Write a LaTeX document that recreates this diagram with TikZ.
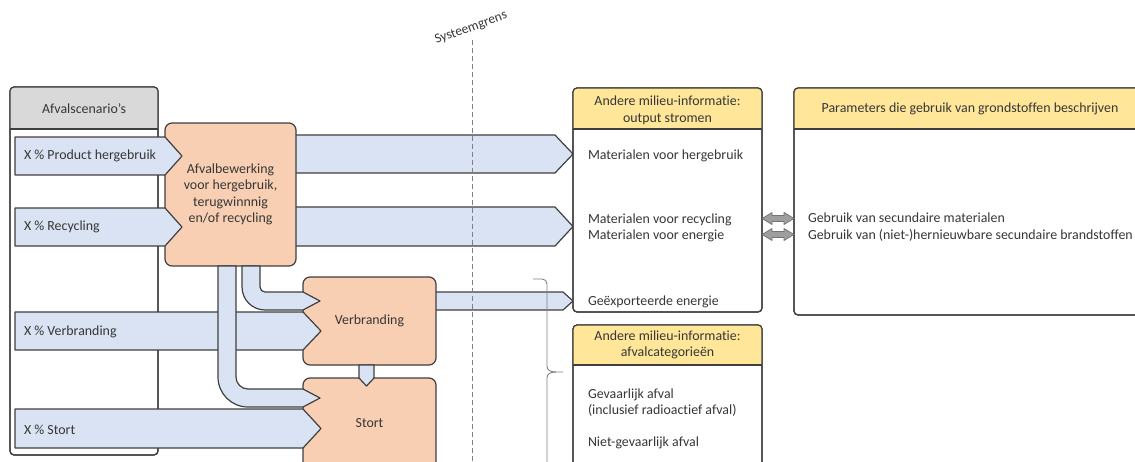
\documentclass[tikz,border=0pt]{standalone}
\usepackage{fontspec}
\setmainfont{Carlito}[Ligatures=NoCommon]
\usetikzlibrary{calc}

\definecolor{flowblue}{HTML}{DAE3F3}
\definecolor{procorange}{HTML}{F8CFB3}
\definecolor{hdryellow}{HTML}{FFE699}
\definecolor{hdrgray}{HTML}{D9D9D9}
\definecolor{edgecol}{HTML}{3F3F3F}
\definecolor{txtcol}{HTML}{363636}

% straight block arrow: [opts]{x start}{x shoulder}{x tip}{y centre}{half height}
\newcommand\blkarrow[6][]{%
  \draw[flow,#1] (#2,{#5-#6}) -- (#3,{#5-#6}) -- (#4,#5) -- (#3,{#5+#6}) -- (#2,{#5+#6}) -- cycle;}
% small grey double-headed arrow between two panels, centred at height #1
\newcommand\dblarrow[1]{%
  \draw[dbl] (762,#1) -- (772,{#1-6}) -- (772,{#1-3}) -- (784,{#1-3}) -- (784,{#1-6})
    -- (794,#1) -- (784,{#1+6}) -- (784,{#1+3}) -- (772,{#1+3}) -- (772,{#1+6}) -- cycle;}

\begin{document}
\begin{tikzpicture}[x=1pt,y=-1pt,
  every node/.style={font=\fontsize{13.9}{16.5}\selectfont, text=txtcol, inner sep=0pt, outer sep=0pt},
  outl/.style={draw=edgecol, line width=1.2pt, line join=round},
  flow/.style={outl, fill=flowblue},
  proc/.style={outl, fill=procorange, rounded corners=7pt},
  panel/.style={outl, fill=white, rounded corners=4pt},
  sysline/.style={draw=black!50, line width=0.9pt, dash pattern=on 5pt off 3pt},
  bracel/.style={draw=black!50, line width=0.9pt},
  dbl/.style={draw=black!55, fill=black!38, line width=0.7pt, line join=round},
]
\useasboundingbox (0,0) rectangle (1135,461);
\clip (0,0) rectangle (1135,461);

% ---------- waste scenarios panel ----------
\node[panel, anchor=north west, minimum width=148pt, minimum height=368pt] (scen) at (10,87) {};
\begin{scope}
  \clip[rounded corners=4pt] (scen.north west) rectangle (scen.south east);
  \fill[hdrgray] (scen.north west) rectangle ($(scen.north east)+(0,42)$);
\end{scope}
\draw[outl] ($(scen.north west)+(0,42)$) -- ($(scen.north east)+(0,42)$);
\draw[outl, rounded corners=4pt] (scen.north west) rectangle (scen.south east);
\node (scenhdr) at (84,109) {Afvalscenario’s};

% ---------- flows leaving the process boxes (start hidden under the boxes) ----------
\blkarrow{280}{555}{573}{154}{19}
\blkarrow{280}{555}{573}{226.5}{19.5}
\blkarrow{420}{563}{573}{301}{9}

% ---------- process boxes ----------
\node[proc, anchor=north west, minimum width=131pt, minimum height=143pt, align=center] (treat) at (165,123)
  {Afvalbewerking\\voor hergebruik,\\terugwinnnig\\en/of recycling};
\node[proc, anchor=north west, minimum width=133pt, minimum height=88pt] (burn) at (303,277) {Verbranding};
\node[proc, anchor=north west, minimum width=133pt, minimum height=120pt] (land) at (303,378) {};
\node (landlbl) at (369.5,423) {Stort};

% ---------- scenario inputs ----------
\blkarrow{15}{165}{182}{156}{19}
\blkarrow{15}{165}{182}{227}{19}
\blkarrow{15}{303}{321}{331}{19}
\blkarrow{15}{303}{321}{428.5}{19.5}
\node[anchor=west] (sc1) at (24,156) {X \% Product hergebruik};
\node[anchor=west] (sc2) at (24,227) {X \% Recycling};
\node[anchor=west] (sc3) at (24,332) {X \% Verbranding};
\node[anchor=west] (sc4) at (24,430) {X \% Stort};

% ---------- residues from treatment to incineration and landfill ----------
\draw[flow] (242,266) -- (242,287) .. controls (242,299.7) and (252.3,310) .. (265,310)
  -- (303,310) -- (320,301) -- (303,292) -- (265,292)
  .. controls (262.2,292) and (260,289.8) .. (260,287) -- (260,266) -- cycle;
\draw[flow] (218,266) -- (218,377) .. controls (218,393.6) and (231.4,407) .. (248,407)
  -- (303,407) -- (320,398) -- (303,389) -- (248,389)
  .. controls (241.4,389) and (236,383.6) .. (236,377) -- (236,266) -- cycle;
% ashes from incineration to landfill
\draw[flow] (359,365) -- (359,378) -- (366.5,386) -- (374,378) -- (374,365) -- cycle;

% ---------- system boundary ----------
\coordinate (sysA) at (472,40);
\coordinate (sysB) at (472,461);
\draw[sysline] (sysA) -- (sysB);
\node[rotate=20, font=\fontsize{13.5}{15}\selectfont] (syslbl) at (471,28) {Systeemgrens};

% ---------- output flows panel ----------
\node[panel, anchor=north west, minimum width=189pt, minimum height=224pt] (outp) at (573,88) {};
\begin{scope}
  \clip[rounded corners=4pt] (outp.north west) rectangle (outp.south east);
  \fill[hdryellow] (outp.north west) rectangle ($(outp.north east)+(0,41)$);
\end{scope}
\draw[outl] ($(outp.north west)+(0,41)$) -- ($(outp.north east)+(0,41)$);
\draw[outl, rounded corners=4pt] (outp.north west) rectangle (outp.south east);
\node[align=center] (outhdr) at (667.5,110.5) {Andere milieu-informatie:\\output stromen};
\node[anchor=west] (o1) at (588,156) {Materialen voor hergebruik};
\node[anchor=west, align=left] (o2) at (588,228) {Materialen voor recycling\\Materialen voor energie};
\node[anchor=west] (o3) at (588,302) {Geëxporteerde energie};

% ---------- waste categories panel ----------
\node[panel, anchor=north west, minimum width=189pt, minimum height=160pt] (wastep) at (573,325) {};
\begin{scope}
  \clip[rounded corners=4pt] (wastep.north west) rectangle (wastep.south east);
  \fill[hdryellow] (wastep.north west) rectangle ($(wastep.north east)+(0,40)$);
\end{scope}
\draw[outl] ($(wastep.north west)+(0,40)$) -- ($(wastep.north east)+(0,40)$);
\draw[outl, rounded corners=4pt] (wastep.north west) rectangle (wastep.south east);
\node[align=center] (wastehdr) at (667.5,345) {Andere milieu-informatie:\\afvalcategorieën};
\node[anchor=west, align=left] (w1) at (588,402.5) {Gevaarlijk afval\\(inclusief radioactief afval)};
\node[anchor=west] (w2) at (588,443) {Niet-gevaarlijk afval};

% ---------- resource use parameters panel ----------
\node[panel, anchor=north west, minimum width=352pt, minimum height=227pt] (parp) at (794,88) {};
\begin{scope}
  \clip[rounded corners=4pt] (parp.north west) rectangle (parp.south east);
  \fill[hdryellow] (parp.north west) rectangle ($(parp.north east)+(0,41)$);
\end{scope}
\draw[outl] ($(parp.north west)+(0,41)$) -- ($(parp.north east)+(0,41)$);
\draw[outl, rounded corners=4pt] (parp.north west) rectangle (parp.south east);
\node (parhdr) at (970,109) {Parameters die gebruik van grondstoffen beschrijven};
\node[anchor=west, align=left] (p1) at (808,227) {Gebruik van secundaire materialen\\Gebruik van (niet-)hernieuwbare secundaire brandstoffen};

% ---------- links between the panels ----------
\dblarrow{218.5}
\dblarrow{234.5}

% ---------- brace grouping the exported energy with the waste categories ----------
\draw[bracel] (533,279) -- (542,279) .. controls (545,279) and (547,281) .. (547,284)
  -- (547,366) .. controls (547,370) and (550,372) .. (556,372) -- (563,372);
\draw[bracel] (556,372) .. controls (550,372) and (547,374) .. (547,378) -- (547,470);
\end{tikzpicture}
\end{document}
